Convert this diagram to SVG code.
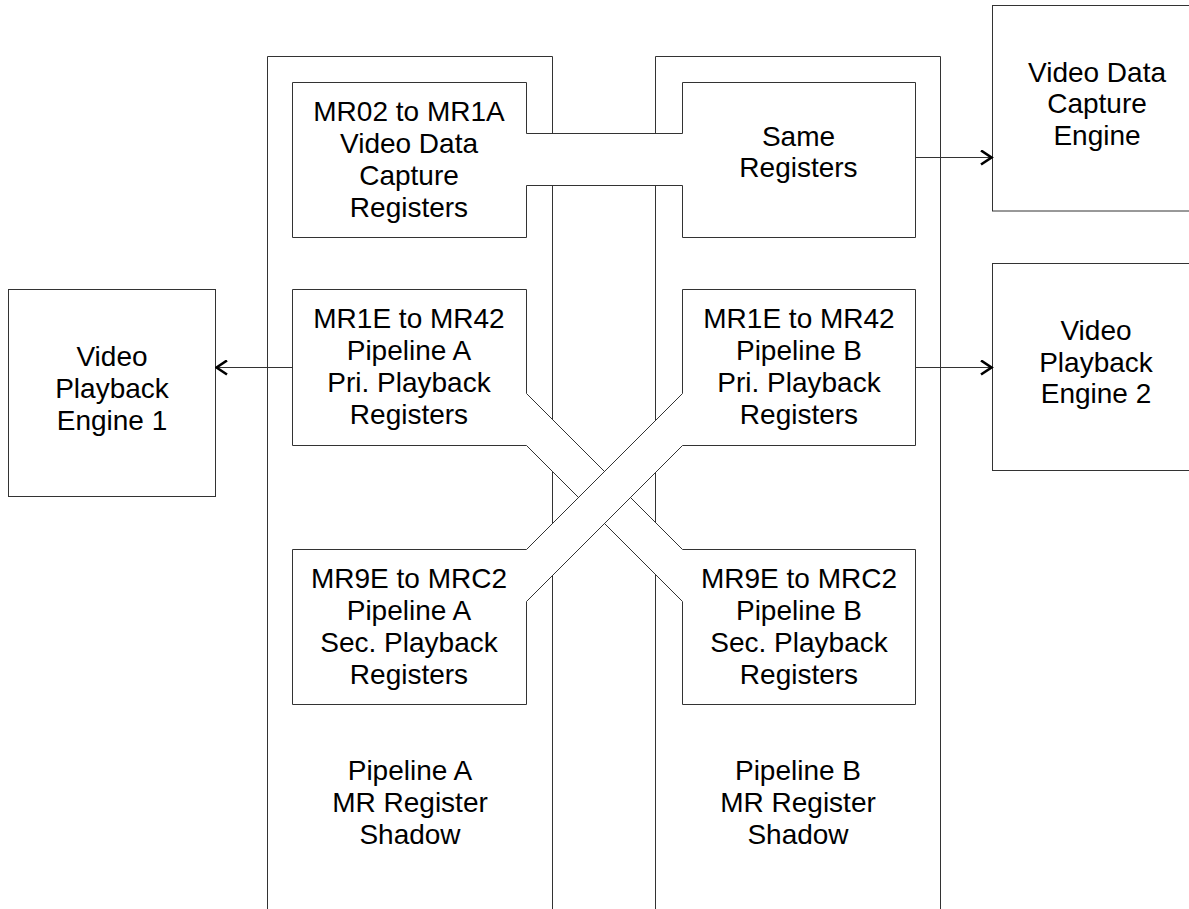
<svg xmlns="http://www.w3.org/2000/svg" width="1189" height="909" viewBox="0 0 1189 909">
<style>
  .ln { fill: none; stroke: #333; stroke-width: 1; }
  .bx { fill: #fff; stroke: #333; stroke-width: 1; }
  .t { font-family: "Liberation Sans", Arial, sans-serif; font-size: 28px; fill: #000; text-anchor: middle; }
  .ar { fill: none; stroke: #333; stroke-width: 1; marker-end: url(#chev); }
</style>
<defs>
  <marker id="chev" viewBox="0 0 14 16" refX="12.5" refY="8" markerWidth="14" markerHeight="16" markerUnits="userSpaceOnUse" orient="auto">
    <path d="M1.5,1 L12,8 L1.5,15" fill="none" stroke="#000" stroke-width="2.6"/>
  </marker>
</defs>
<rect width="1189" height="909" fill="#fff"/>

<g id="shadow-a">
  <path class="ln" d="M267.5,915 V56.5 H552.5 V915"/>
  <text class="t" x="410" y="780">Pipeline A</text>
  <text class="t" x="410" y="812">MR Register</text>
  <text class="t" x="410" y="844">Shadow</text>
</g>
<g id="shadow-b">
  <path class="ln" d="M655.5,915 V56.5 H940.5 V915"/>
  <text class="t" x="798" y="780">Pipeline B</text>
  <text class="t" x="798" y="812">MR Register</text>
  <text class="t" x="798" y="844">Shadow</text>
</g>

<g id="capture-registers">
  <polygon class="bx" points="292.5,82.5 526.5,82.5 526.5,133.5 682.5,133.5 682.5,82.5 915.5,82.5 915.5,237.5 682.5,237.5 682.5,185.5 526.5,185.5 526.5,237.5 292.5,237.5"/>
  <text class="t" x="409" y="121">MR02 to MR1A</text>
  <text class="t" x="409" y="153">Video Data</text>
  <text class="t" x="409" y="185">Capture</text>
  <text class="t" x="409" y="217">Registers</text>
  <text class="t" x="798.5" y="146">Same</text>
  <text class="t" x="798.5" y="177">Registers</text>
</g>

<g id="pipeline-a-pri-to-b-sec">
  <polygon class="bx" points="292.5,289.5 526.5,289.5 526.5,393.5 682.5,549.5 915.5,549.5 915.5,704.5 682.5,704.5 682.5,601.5 526.5,445.5 292.5,445.5"/>
  <text class="t" x="409" y="328">MR1E to MR42</text>
  <text class="t" x="409" y="360">Pipeline A</text>
  <text class="t" x="409" y="392">Pri. Playback</text>
  <text class="t" x="409" y="424">Registers</text>
  <text class="t" x="799" y="588">MR9E to MRC2</text>
  <text class="t" x="799" y="620">Pipeline B</text>
  <text class="t" x="799" y="652">Sec. Playback</text>
  <text class="t" x="799" y="684">Registers</text>
</g>

<g id="pipeline-b-pri-to-a-sec">
  <polygon class="bx" points="682.5,289.5 915.5,289.5 915.5,445.5 682.5,445.5 526.5,601.5 526.5,704.5 292.5,704.5 292.5,549.5 526.5,549.5 682.5,393.5"/>
  <text class="t" x="799" y="328">MR1E to MR42</text>
  <text class="t" x="799" y="360">Pipeline B</text>
  <text class="t" x="799" y="392">Pri. Playback</text>
  <text class="t" x="799" y="424">Registers</text>
  <text class="t" x="409" y="588">MR9E to MRC2</text>
  <text class="t" x="409" y="620">Pipeline A</text>
  <text class="t" x="409" y="652">Sec. Playback</text>
  <text class="t" x="409" y="684">Registers</text>
</g>

<g id="capture-engine">
  <rect class="bx" x="992.5" y="5.5" width="220" height="205.5"/>
  <text class="t" x="1097" y="82">Video Data</text>
  <text class="t" x="1097" y="113">Capture</text>
  <text class="t" x="1097" y="145">Engine</text>
</g>
<g id="playback-engine-2">
  <rect class="bx" x="992.5" y="263.5" width="220" height="207"/>
  <text class="t" x="1096" y="340">Video</text>
  <text class="t" x="1096" y="372">Playback</text>
  <text class="t" x="1096" y="403">Engine 2</text>
</g>
<g id="playback-engine-1">
  <rect class="bx" x="8.5" y="289.5" width="207" height="207"/>
  <text class="t" x="112" y="366">Video</text>
  <text class="t" x="112" y="398">Playback</text>
  <text class="t" x="112" y="430">Engine 1</text>
</g>

<g id="connectors">
  <line class="ar" x1="915.5" y1="157.5" x2="992" y2="157.5"/>
  <line class="ar" x1="915.5" y1="367.5" x2="992" y2="367.5"/>
  <line class="ar" x1="292.5" y1="367.5" x2="216" y2="367.5"/>
</g>
</svg>
